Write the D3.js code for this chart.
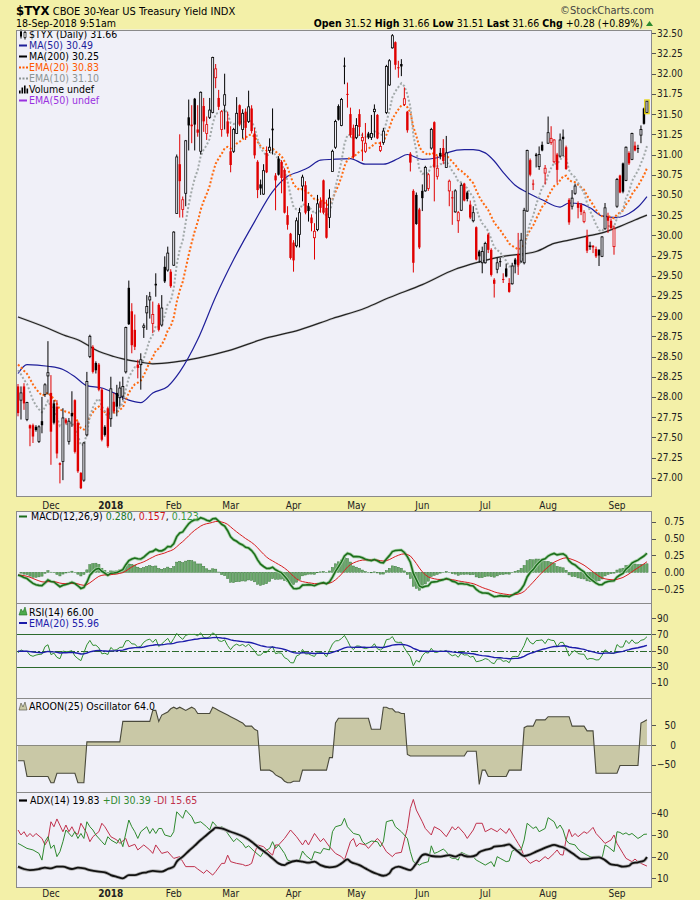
<!DOCTYPE html>
<html><head><meta charset="utf-8">
<script src="https://cdn.jsdelivr.net/npm/d3@7"></script>
<style>
body{margin:0;background:#f3f0a8}
svg{display:block}
text{font-family:'DejaVu Sans Condensed','Liberation Sans',Arial,sans-serif;white-space:pre}
</style>
</head><body><div id="chart"></div>
<script>
// ---------- DATA ----------
const startDate = "2017-11-15", endDate = "2018-09-18";
const holidays = ["2017-11-23","2017-12-25","2018-01-01","2018-01-15","2018-02-19","2018-03-30","2018-05-28","2018-07-04","2018-09-03"];
const monthLabels = ["Dec","2018","Feb","Mar","Apr","May","Jun","Jul","Aug","Sep"];

const open = [28.13,27.96,28.13,27.72,27.65,27.65,27.63,27.45,27.70,28.03,
28.26,28.05,27.92,27.88,27.18,27.20,27.72,27.45,27.80,27.96,
27.68,27.06,26.97,27.53,28.50,28.62,28.42,28.40,28.09,27.63,
27.86,27.73,27.94,28.05,27.99,28.01,28.31,29.35,29.06,28.83,
28.40,28.40,28.86,29.04,29.20,28.91,29.40,29.14,28.89,29.61,
29.57,29.55,29.63,30.27,30.88,30.32,30.52,31.46,31.37,31.69,
31.31,31.04,31.60,31.26,31.46,31.52,31.95,31.70,31.31,31.61,
31.41,31.04,31.04,31.26,31.61,31.31,31.53,31.41,31.57,31.26,
30.91,30.63,30.51,31.02,31.05,31.32,30.74,30.95,30.91,30.81,
30.25,30.02,29.91,29.87,30.01,30.61,30.62,30.36,30.22,29.97,
30.07,30.42,30.68,30.34,30.22,30.79,31.09,31.60,31.36,32.10,
31.75,31.50,31.33,31.21,31.50,31.17,31.04,31.26,31.21,31.53,
31.49,31.05,31.15,31.52,31.86,32.32,32.39,32.08,32.12,31.62,
31.53,31.01,30.55,30.50,30.32,30.55,30.55,30.58,31.08,31.40,
30.73,31.02,31.08,30.84,30.55,30.47,30.29,30.18,30.31,30.64,
30.53,30.38,30.18,30.10,29.80,29.66,29.66,30.01,29.82,29.45,
29.58,29.68,29.46,29.59,29.41,29.40,29.70,29.77,29.68,29.66,
30.30,30.93,30.64,31.00,30.85,31.12,30.77,31.14,31.15,30.91,
31.00,30.98,31.22,31.09,30.44,30.36,30.52,30.40,30.38,30.17,
29.99,29.86,29.87,29.83,29.82,29.74,30.08,30.23,30.18,29.86,
30.36,30.74,30.89,30.68,31.02,30.94,31.11,31.08,31.24,31.57,
31.52];
const high = [28.16,28.13,28.17,27.94,27.66,27.67,27.65,27.65,28.00,28.17,
28.69,28.27,27.96,27.96,27.19,27.86,27.74,27.74,28.07,27.97,
27.70,27.07,27.44,28.31,28.77,28.64,28.44,28.42,28.11,27.65,
27.88,28.25,28.05,28.15,28.19,28.25,28.87,29.44,29.16,29.02,
28.46,28.54,28.91,29.26,29.30,29.18,29.53,29.16,29.26,29.74,
29.86,29.58,30.05,31.00,31.25,30.48,31.18,31.68,31.61,31.70,
31.61,31.78,31.70,31.47,31.70,32.21,32.12,31.80,31.55,32.00,
31.53,31.35,31.33,31.71,31.62,31.56,31.57,31.79,31.61,31.33,
30.93,30.69,30.88,31.10,31.20,31.57,30.77,30.98,30.93,30.83,
30.36,30.03,29.94,30.22,30.34,30.75,30.67,30.40,30.26,30.15,
30.50,30.47,30.69,30.44,30.57,31.06,31.43,31.62,31.70,32.20,
31.89,31.58,31.37,31.45,31.56,31.27,31.39,31.28,31.49,31.62,
31.50,31.16,31.33,32.11,32.18,32.49,32.40,32.16,32.18,31.83,
31.54,31.03,30.57,30.53,30.34,30.63,30.86,30.77,31.33,31.41,
30.98,31.08,31.19,31.23,30.69,30.55,30.57,30.30,30.65,30.65,
30.55,30.43,30.36,30.11,29.82,29.86,29.92,30.03,29.84,29.47,
29.72,29.72,29.53,29.65,29.47,29.66,29.72,30.03,30.03,30.34,
31.06,30.95,30.69,31.02,31.10,31.16,30.87,31.47,31.35,31.19,
31.02,31.26,31.31,31.11,30.46,30.56,30.64,30.42,30.40,30.31,
30.07,29.92,29.88,29.86,29.83,29.99,30.40,30.28,30.21,30.12,
30.71,30.75,30.90,31.10,31.04,31.27,31.16,31.12,31.36,31.58,
31.66];
const low = [27.76,27.72,27.84,27.70,27.39,27.43,27.57,27.43,27.55,28.00,
28.03,27.16,27.66,27.24,26.93,26.97,27.66,27.41,27.63,27.30,
27.06,26.86,26.95,27.51,28.48,28.29,28.29,28.07,27.45,27.51,
27.37,27.63,27.80,27.76,27.88,27.96,28.29,28.89,28.54,28.58,
28.23,28.09,28.73,28.83,28.97,28.79,29.24,28.81,28.87,29.41,
29.55,29.35,29.62,30.27,30.22,30.22,30.36,31.05,31.14,31.05,
31.22,31.00,31.28,31.18,31.44,31.51,31.82,31.55,31.22,31.31,
31.22,30.78,31.02,31.26,31.35,31.20,31.18,31.39,31.26,30.95,
30.46,30.50,30.50,30.77,31.02,31.00,30.31,30.74,30.52,30.27,
30.07,29.70,29.55,29.85,29.85,30.42,30.26,30.17,30.05,29.70,
30.05,30.28,30.26,29.96,30.09,30.79,31.07,31.42,31.35,31.87,
31.58,31.21,30.95,31.19,31.23,30.92,31.02,31.19,31.18,31.21,
31.19,31.03,31.12,31.50,31.85,32.31,32.05,31.95,31.97,31.60,
31.27,30.79,29.54,30.13,29.83,30.30,30.54,30.55,31.06,30.42,
30.69,30.94,30.88,30.84,30.36,30.13,30.28,30.03,30.30,30.42,
30.42,30.20,30.16,29.69,29.66,29.53,29.65,29.78,29.49,29.23,
29.53,29.61,29.41,29.48,29.29,29.39,29.53,29.51,29.66,29.64,
30.29,30.73,30.56,30.84,30.81,31.04,30.63,31.13,31.12,30.89,
30.65,30.96,30.98,30.81,30.13,30.32,30.50,30.21,30.25,30.15,
29.78,29.82,29.78,29.72,29.62,29.73,30.07,30.03,30.07,29.76,
30.34,30.52,30.52,30.67,30.87,30.93,31.04,31.02,31.14,31.37,
31.51];
const close = [27.80,28.05,27.92,27.93,27.61,27.51,27.59,27.63,27.65,28.15,
28.30,27.57,27.68,27.30,27.16,27.74,27.68,27.70,27.76,27.32,
27.08,26.87,27.43,28.19,28.75,28.31,28.33,28.09,27.47,27.53,
27.39,28.10,27.82,27.88,28.11,28.13,28.86,28.90,28.64,28.62,
28.36,28.46,28.88,29.12,29.24,29.02,29.38,28.83,29.10,29.43,
29.78,29.37,30.04,30.97,30.67,30.44,31.17,31.36,31.35,31.37,
31.27,31.77,31.41,31.37,31.55,32.20,32.06,31.59,31.53,31.74,
31.26,30.87,31.31,31.51,31.37,31.51,31.33,31.59,31.29,30.99,
30.56,30.58,30.80,30.78,31.09,31.30,30.68,30.75,30.71,30.28,
30.13,29.72,29.69,30.18,30.28,30.72,30.28,30.30,30.15,30.05,
30.39,30.34,30.28,29.97,30.46,31.04,31.41,31.43,31.68,32.09,
31.74,31.24,30.97,31.36,31.34,31.21,31.14,31.21,31.26,31.56,
31.20,31.10,31.29,32.09,32.16,32.47,32.11,32.07,32.09,31.69,
31.30,30.90,29.66,30.14,29.85,30.46,30.84,30.75,31.31,30.84,
30.83,30.98,30.92,31.02,30.67,30.46,30.55,30.28,30.62,30.43,
30.45,30.22,30.28,29.70,29.74,29.80,29.90,29.82,29.51,29.40,
29.66,29.67,29.45,29.49,29.30,29.62,29.64,29.63,29.94,30.31,
31.05,30.75,30.63,30.98,31.00,31.05,30.83,31.27,31.20,31.18,
30.81,31.18,31.19,30.82,30.16,30.46,30.61,30.34,30.29,30.28,
29.81,29.87,29.85,29.74,29.75,29.98,30.34,30.18,30.09,30.08,
30.69,30.53,30.54,31.09,30.89,31.26,31.05,31.07,31.31,31.38,
31.66];

// moving averages (trading-day index, value)
const ma50Days   = [0,3,10,15,19,23,28,32,37,41,45,50,54,60,66,72,79,85,90,94,97,101,105,111,116,122,127,130,135,140,144,149,152,156,159,162,166,170,175,181,184,188,191,195,200,204,207,210];
const ma50Values = [28.29,28.40,28.38,28.34,28.25,28.14,28.11,28.05,27.96,27.93,28.05,28.13,28.31,28.71,29.24,29.70,30.17,30.54,30.73,30.79,30.84,30.93,30.94,30.95,30.88,30.88,30.95,31.00,30.94,30.96,31.03,31.06,31.06,31.02,30.92,30.78,30.62,30.53,30.44,30.35,30.40,30.39,30.34,30.24,30.22,30.27,30.35,30.48];
const ma200Days   = [0,10,15,21,26,32,35,41,45,52,60,70,83,94,105,116,124,135,146,151,157,162,173,179,184,190,195,201,206,210];
const ma200Values = [28.99,28.85,28.77,28.69,28.58,28.50,28.47,28.43,28.41,28.43,28.48,28.57,28.73,28.83,28.97,29.10,29.23,29.39,29.58,29.64,29.70,29.74,29.80,29.90,29.94,29.99,30.03,30.11,30.19,30.25];

// Aroon(25) oscillator
const aroonOsc = [-40,-40,-40,-80,-80,-80,-80,-80,-80,-80,-80,-96,-96,-72,-72,-72,-72,-72,-72,-72,
-96,-96,-96,8,8,8,8,8,8,8,8,8,8,8,8,60,60,60,60,60,60,60,60,60,60,88,88,60,76,80,84,
92,96,92,96,92,88,92,96,92,80,80,80,80,80,96,92,88,84,80,76,72,68,64,60,56,48,48,48,40,36,
-64,-64,-64,-64,-68,-76,-80,-84,-92,-96,-96,-92,-92,-92,-64,-64,-64,-64,-64,-64,-64,-64,-64,-32,-32,
56,68,68,68,68,68,68,68,68,68,68,68,40,40,40,40,96,96,92,92,84,84,80,80,
-24,-28,-28,-28,-28,-28,-28,-28,-28,-28,-28,-28,-28,-28,-28,-28,-28,-28,-28,-28,-16,-16,-16,-16,
-100,-64,-64,-80,-80,-80,-80,-80,-80,-80,-64,-64,-64,-64,-64,44,48,48,48,64,64,64,64,
72,72,72,72,72,72,72,72,48,48,48,48,48,36,36,36,-72,-72,-72,-72,-72,-72,-72,-72,
-52,-52,-52,-52,-52,-52,-52,56,60,64];

// ADX(14), +DI, -DI (trading-day index, value)
const adxDays = [0,2,4,7,9,11,13,15,18,20,22,24,27,29,31,33,35,37,39,41,43,45,48,50,52,53,55,57,59,61,63,65,66,68,
  71,74,76,78,80,83,85,87,89,90,93,95,97,99,101,104,106,108,110,111,114,116,118,120,122,124,125,127,129,131,133,135,136,138,
  141,144,146,148,149,151,153,154,156,158,159,162,164,165,167,169,171,173,175,177,179,181,182,184,186,188,190,192,194,196,198,200,202,204,205,207,209,210];
const adxValues = [15.4,14.3,13.8,14.3,14.9,14.6,15.4,15.4,14.3,14.9,14.6,13.8,13.1,12.8,11.5,10.7,10.0,11.5,11.5,12.3,12.8,13.4,13.1,14.3,15.4,17.7,20.0,22.6,25.1,27.7,30.0,32.3,33.4,33.0,
  31.5,30.0,28.7,26.9,24.6,21.5,19.2,16.9,16.1,16.9,18.1,17.7,17.2,17.7,16.1,15.1,15.4,16.9,18.7,17.7,16.1,14.6,13.1,12.0,11.2,12.3,14.3,15.4,14.6,13.8,16.9,20.7,21.1,20.3,
  20.0,20.7,20.0,21.0,20.4,20.0,20.7,22.0,23.1,23.8,24.6,25.1,25.7,24.6,22.3,20.3,21.0,22.3,23.5,24.6,25.4,24.6,24.3,22.6,20.7,18.9,18.9,19.5,19.7,18.4,16.4,16.1,15.4,15.8,16.9,17.4,18.1,19.83];
const pdiDays = [0,1,2,3,5,7,8,9,10,11,12,13,14,15,16,18,19,20,21,22,23,24,25,26,28,29,30,31,33,34,35,37,38,39,40,41,43,44,45,46,47,48,49,51,52,53,54,55,56,58,59,61,63,64,65,67,68,
  69,70,72,73,75,76,77,79,81,82,84,85,86,87,89,90,92,94,95,96,98,99,101,102,104,105,106,108,109,110,112,114,115,116,118,120,121,122,123,125,126,128,130,131,132,134,135,137,138,
  139,140,142,143,144,145,146,147,148,150,152,153,154,156,158,159,160,161,163,164,165,166,168,169,170,172,173,174,176,177,179,180,181,182,183,184,186,187,188,190,191,193,195,196,197,199,200,201,202,203,204,205,207,208,209,210];
const pdiValues = [26.1,25.4,24.6,23.8,23.1,21.5,18.4,26.9,29.2,23.8,25.4,20.0,22.3,26.9,32.3,29.2,31.5,28.4,30.7,28.4,36.1,33.8,32.3,30.0,26.9,25.4,29.2,27.7,26.1,28.4,24.6,36.9,33.8,31.5,28.4,31.5,33.8,30.7,33.0,30.7,33.0,33.0,30.0,29.2,31.5,40.7,39.2,37.7,41.5,38.4,35.4,36.1,33.8,32.3,36.1,33.0,33.8,
  33.0,30.7,26.9,28.4,26.1,24.1,25.0,22.3,20.0,22.3,23.8,26.9,23.8,25.4,21.5,18.4,17.7,18.4,22.6,20.7,18.4,22.3,21.5,23.8,23.1,31.5,33.8,34.6,37.7,33.8,30.7,30.0,26.9,25.7,27.2,26.9,24.6,26.9,36.1,36.9,33.8,31.5,28.4,22.3,17.7,16.1,16.9,17.7,25.0,
  21.5,22.0,23.5,22.3,20.0,19.2,19.2,18.4,22.0,20.7,20.0,18.4,17.7,16.1,17.7,15.4,20.0,19.2,17.7,18.0,22.6,23.1,23.1,27.7,35.4,33.0,33.8,31.5,33.0,38.0,36.1,33.0,34.6,32.3,27.7,26.1,25.4,23.5,22.3,20.7,20.0,20.0,19.2,25.4,24.6,22.3,31.5,31.2,30.3,31.0,30.0,30.7,28.4,29.2,30.3,30.39];
const mdiDays = [0,1,2,3,4,5,6,8,9,10,11,12,13,15,16,17,18,19,20,21,23,24,25,27,28,29,31,33,34,36,37,39,40,42,44,45,46,48,50,51,52,54,55,56,59,60,62,63,65,66,68,
  69,70,71,73,75,76,77,78,79,80,82,83,85,86,87,89,91,93,95,96,97,99,101,102,104,106,108,109,111,112,113,114,116,117,118,120,121,123,125,126,128,129,130,131,132,133,135,136,138,
  139,141,143,145,146,147,149,150,152,153,155,156,158,160,161,163,164,166,167,168,169,171,173,174,176,177,179,180,181,182,183,184,185,186,187,189,190,192,193,195,196,198,199,200,202,203,205,206,207,208,210];
const mdiValues = [32.3,30.0,31.5,29.2,30.7,29.2,30.7,28.4,25.4,27.7,36.1,33.8,37.4,31.5,34.6,31.5,33.8,31.0,30.3,35.4,30.7,26.9,29.2,31.5,35.4,33.8,29.2,27.7,26.1,28.4,24.6,25.7,23.1,25.4,23.1,21.5,25.4,21.5,22.3,20.7,19.2,20.0,17.7,15.4,15.4,14.3,12.3,13.8,11.5,13.1,16.9,
  16.9,20.7,17.7,16.9,16.4,15.8,16.1,16.9,21.5,25.4,24.6,23.1,20.7,25.4,25.4,28.4,32.3,29.2,25.4,27.7,25.4,30.7,26.9,28.4,24.6,21.5,20.0,18.4,26.9,28.4,24.6,26.1,25.4,23.8,25.4,28.4,26.9,22.3,20.0,21.5,22.0,27.7,33.0,42.3,46.4,41.5,36.1,33.0,30.0,
  33.8,32.3,29.2,33.8,32.3,33.8,30.7,28.4,32.3,35.4,35.4,31.5,33.0,31.5,33.0,30.7,33.0,28.4,26.1,23.8,20.0,16.9,18.4,17.7,20.0,18.9,21.5,23.1,21.0,20.7,27.7,32.6,29.2,30.7,29.2,31.5,30.7,33.5,30.7,27.7,26.1,27.7,30.0,26.1,21.5,19.2,17.7,18.9,17.7,16.9,15.65];

// indicator starting levels read at the first bar (EMA, MACD and RSI are derived from the closes above)
const seedEma10 = 28.33, seedEma20 = 28.40;
const seedEma12 = 28.28, seedEma26 = 28.32, seedSignal = -0.04;
const seedAvgGain = 0.12, seedAvgLoss = 0.135, seedRsiEma = 49;

const priceTicks = [27.00,27.25,27.50,27.75,28.00,28.25,28.50,28.75,29.00,29.25,29.50,29.75,30.00,30.25,30.50,30.75,31.00,31.25,31.50,31.75,32.00,32.25,32.50];
const macdTicks = [0.75,0.50,0.25,0.00,-0.25];
const rsiTicks = [90,70,50,30,10];
const aroonTicks = [50,0,-50];
const adxTicks = [40,30,20,10];

// ---------- derived series ----------
const parse = d3.utcParse("%Y-%m-%d"), fmtD = d3.utcFormat("%Y-%m-%d");
const dates = d3.utcDay.range(parse(startDate), d3.utcDay.offset(parse(endDate),1))
  .filter(d => d.getUTCDay()%6 !== 0 && !holidays.includes(fmtD(d))).slice(0, close.length);
const N = dates.length;

function emaSeries(src, n, seed){ const k=2/(n+1); let e=seed; return src.map((v,i)=> i===0 ? e : (e = e + k*(v-e))); }
const ema10 = emaSeries(close,10,seedEma10);
const ema20 = emaSeries(close,20,seedEma20);
const ema12 = emaSeries(close,12,seedEma12), ema26 = emaSeries(close,26,seedEma26);
const macd = ema12.map((v,i)=>v-ema26[i]);
const signal = emaSeries(macd,9,seedSignal);
const hist = macd.map((v,i)=>v-signal[i]);
const rsi = []; { let ag=seedAvgGain, al=seedAvgLoss;
  close.forEach((c,i)=>{ if(i>0){const ch=c-close[i-1]; ag=(ag*13+Math.max(ch,0))/14; al=(al*13+Math.max(-ch,0))/14;} rsi.push(100-100/(1+ag/al)); }); }
const rsiEma = emaSeries(rsi,20,seedRsiEma);

// ---------- LAYOUT ----------
const W=700,H=900, PL=16, PR=652;
const BG='#f3f0a8', PBG='#f0f0f8', BORDER='#8a8a8a';
const svg=d3.select('#chart').append('svg').attr('width',W).attr('height',H);
svg.append('rect').attr('width',W).attr('height',H).attr('fill',BG);

const x = d3.scalePoint().domain(dates).range([18, 18+2.995*(N-1)]);
const yMain = d3.scaleLinear().domain([26.774,32.547]).range([496,29.5]);
const yMacd = d3.scaleLinear().domain([-0.454,0.907]).range([603,511]);
const yRsi = d3.scaleLinear().domain([-8.6,108.6]).range([698,603]);
const yAr = d3.scaleLinear().domain([-119.5,119.5]).range([792,698]);
const yAdx = d3.scaleLinear().domain([6.0,49.83]).range([887,792]);

const panels=[{s:yMain},{s:yMacd},{s:yRsi},{s:yAr},{s:yAdx}];
panels.forEach(p=>{ const [b,t]=p.s.range();
  svg.append('rect').attr('x',PL).attr('y',t).attr('width',PR-PL).attr('height',b-t).attr('fill',PBG);
  p.g = svg.append('g');
  const cid='c'+Math.round(t);
  svg.append('clipPath').attr('id',cid).append('rect').attr('x',PL).attr('y',t).attr('width',PR-PL).attr('height',b-t);
  p.g.attr('clip-path',`url(#${cid})`);
});
const [gMain,gMacd,gRsi,gAr,gAdx]=panels.map(p=>p.g);
const X=(i)=>x(dates[i]);

// right axes
function rightAxis(scale, ticks, fmt){
  const g=svg.append('g');
  const labels = ticks.map(t=>g.append('text').attr('y',scale(t)+3.5).attr('font-size',10).attr('fill','#222').text(fmt(t)));
  const mw = d3.max(labels, l=>l.node().getComputedTextLength());
  labels.forEach(l=>l.attr('x',657+mw).attr('text-anchor','end'));
  ticks.forEach(t=>g.append('line').attr('x1',PR).attr('x2',PR+4).attr('y1',Math.round(scale(t))+0.5).attr('y2',Math.round(scale(t))+0.5).attr('stroke','#555'));
}
rightAxis(yMain, priceTicks, d3.format('.2f'));
rightAxis(yMacd, macdTicks, d3.format('.2f'));
rightAxis(yRsi, rsiTicks, d3.format('d'));
rightAxis(yAr, aroonTicks, d3.format('d'));
rightAxis(yAdx, adxTicks, d3.format('d'));

// month labels
const monthIdx=[]; dates.forEach((d,i)=>{ if(i>0 && d.getUTCMonth()!==dates[i-1].getUTCMonth()) monthIdx.push(i); });
[508.5, 897].forEach(yy=>{
  monthIdx.forEach((mi,k)=>{ if(k>=monthLabels.length) return;
    svg.append('text').attr('x',X(mi)).attr('y',yy).attr('text-anchor','middle').attr('font-size',10)
      .attr('font-weight',monthLabels[k]==='2018'?'bold':'normal').attr('fill','#222').text(monthLabels[k]);
  });
});

// ---------- MAIN PRICE PANEL ----------
const lineIdx = d3.line().x(d=>X(d[0])).y(d=>yMain(d[1])).curve(d3.curveMonotoneX);
gMain.append('path').attr('d',lineIdx(ma200Days.map((d,i)=>[d,ma200Values[i]]))).attr('fill','none').attr('stroke','#b8b8b8').attr('stroke-width',2.4).attr('opacity',0.6);
gMain.append('path').attr('d',lineIdx(ma200Days.map((d,i)=>[d,ma200Values[i]]))).attr('fill','none').attr('stroke','#222').attr('stroke-width',1.2);
gMain.append('path').attr('d',lineIdx(ma50Days.map((d,i)=>[d,ma50Values[i]]))).attr('fill','none').attr('stroke','#1f1f9a').attr('stroke-width',1.2);
const lineDay = (s)=>d3.line().x((d,i)=>X(i)).y(d=>s(d));
gMain.append('path').attr('d',lineDay(yMain)(ema20)).attr('fill','none').attr('stroke','#ff6a10').attr('stroke-width',2).attr('stroke-dasharray','2,2');
gMain.append('path').attr('d',lineDay(yMain)(ema10)).attr('fill','none').attr('stroke','#a2a9a9').attr('stroke-width',2).attr('stroke-dasharray','2,2');

for(let i=0;i<N;i++){
  const cx=X(i), o=open[i], c=close[i], h=high[i], l=low[i];
  const pc = i>0 ? close[i-1] : o;
  const col = c>=pc ? '#000' : '#e00000';
  const filled = c<o;
  gMain.append('line').attr('x1',cx).attr('x2',cx).attr('y1',yMain(h)).attr('y2',yMain(l)).attr('stroke',col).attr('stroke-width',1);
  const top=yMain(Math.max(o,c)), bot=yMain(Math.min(o,c));
  if(filled){
    gMain.append('rect').attr('x',cx-1.2).attr('width',2.4).attr('y',top).attr('height',Math.max(1,bot-top)).attr('fill',col);
  } else {
    if(i===N-1) gMain.append('rect').attr('x',cx-2.2).attr('width',4.4).attr('y',top-1.2).attr('height',Math.max(1,bot-top)+2.4).attr('fill','none').attr('stroke','#e6d200').attr('stroke-width',1.2);
    gMain.append('rect').attr('x',cx-1).attr('width',2).attr('y',top).attr('height',Math.max(0.8,bot-top)).attr('fill',PBG).attr('stroke',col).attr('stroke-width',0.8);
  }
}

// main legend
const legend=[
  {t:'$TYX (Daily) 31.66',c:'#000',icon:'candle'},
  {t:'MA(50) 30.49',c:'#1f1f9a',icon:'line'},
  {t:'MA(200) 30.25',c:'#000',icon:'line'},
  {t:'EMA(20) 30.83',c:'#ff5a00',icon:'dot'},
  {t:'EMA(10) 31.10',c:'#8c9494',icon:'dot'},
  {t:'Volume undef',c:'#000',icon:'bars'},
  {t:'EMA(50) undef',c:'#9a30e0',icon:'line'}];
legend.forEach((L,k)=>{
  const cy=34.5+11*k;
  if(L.icon==='line') svg.append('line').attr('x1',19).attr('x2',27).attr('y1',cy).attr('y2',cy).attr('stroke',L.c).attr('stroke-width',2);
  if(L.icon==='dot') svg.append('line').attr('x1',19).attr('x2',28).attr('y1',cy).attr('y2',cy).attr('stroke',L.c).attr('stroke-width',2).attr('stroke-dasharray','2,1.5');
  if(L.icon==='candle'){ svg.append('line').attr('x1',21).attr('x2',21).attr('y1',cy-5).attr('y2',cy+4).attr('stroke','#000');
    svg.append('rect').attr('x',20).attr('y',cy-3).attr('width',2).attr('height',5).attr('fill','#000');
    svg.append('line').attr('x1',25).attr('x2',25).attr('y1',cy-4).attr('y2',cy+5).attr('stroke','#000');
    svg.append('rect').attr('x',24).attr('y',cy-2).attr('width',2).attr('height',5).attr('fill','#fff').attr('stroke','#000').attr('stroke-width',0.7); }
  if(L.icon==='bars'){ [[19,3],[21.5,6],[24,8],[26.5,5]].forEach(b=>svg.append('rect').attr('x',b[0]).attr('y',cy+4-b[1]).attr('width',1.6).attr('height',b[1]).attr('fill','#000')); }
  svg.append('text').attr('x',29).attr('y',cy+3.8).attr('font-size',10.5).attr('fill',L.c).text(L.t);
});

// ---------- MACD ----------
const y0m=yMacd(0);
hist.forEach((v,i)=>{ const yy=yMacd(v);
  gMacd.append('rect').attr('x',X(i)-1.1).attr('width',2.2).attr('y',Math.min(yy,y0m)).attr('height',Math.abs(yy-y0m)).attr('fill','#6caa6c').attr('stroke','#3d7a3d').attr('stroke-width',0.5); });
gMacd.append('path').attr('d',lineDay(yMacd)(macd)).attr('fill','none').attr('stroke','#a8d2a8').attr('stroke-width',3.2);
gMacd.append('path').attr('d',lineDay(yMacd)(signal)).attr('fill','none').attr('stroke','#d81e1e').attr('stroke-width',1);
gMacd.append('path').attr('d',lineDay(yMacd)(macd)).attr('fill','none').attr('stroke','#1c6e1c').attr('stroke-width',1.6);
svg.append('line').attr('x1',19).attr('x2',27).attr('y1',516.5).attr('y2',516.5).attr('stroke','#1c6e1c').attr('stroke-width',2);
{ const t=svg.append('text').attr('x',31).attr('y',520.3).attr('font-size',10.5);
  [['MACD(12,26,9) ','#000'],['0.280','#1c7a1c'],[', ','#000'],['0.157','#d01818'],[', ','#000'],['0.123','#3a9a3a']].forEach(s=>t.append('tspan').attr('fill',s[1]).text(s[0])); }

// ---------- RSI ----------
[[70,null],[30,null],[50,'7,2,2,2']].forEach(r=>{ const yy=Math.round(yRsi(r[0]))+0.5;
  const ln=gRsi.append('line').attr('x1',PL).attr('x2',PR).attr('y1',yy).attr('y2',yy).attr('stroke','#2d6a2d').attr('stroke-width',1.2);
  if(r[1]) ln.attr('stroke-dasharray',r[1]); });
gRsi.append('path').attr('d',lineDay(yRsi)(rsi)).attr('fill','none').attr('stroke','#2f8f2f').attr('stroke-width',1);
gRsi.append('path').attr('d',lineDay(yRsi)(rsiEma)).attr('fill','none').attr('stroke','#1c1caa').attr('stroke-width',1.4);
svg.append('path').attr('d','M19,615 L21,609 L23,612 L25,607 L27,615 Z').attr('fill','#4caa4c').attr('stroke','#1c6e1c').attr('stroke-width',0.6);
svg.append('text').attr('x',29).attr('y',615.5).attr('font-size',10.5).attr('fill','#000').text('RSI(14) 66.00');
svg.append('line').attr('x1',19).attr('x2',27).attr('y1',623).attr('y2',623).attr('stroke','#1c1caa').attr('stroke-width',2);
svg.append('text').attr('x',29).attr('y',626.8).attr('font-size',10.5).attr('fill','#1c1caa').text('EMA(20) 55.96');

// ---------- AROON ----------
const arArea=d3.area().x((d,i)=>X(i)).y0(yAr(0)).y1(d=>yAr(d));
gAr.append('path').attr('d',arArea(aroonOsc)).attr('fill','#c9c8a6');
gAr.append('line').attr('x1',PL).attr('x2',PR).attr('y1',Math.round(yAr(0))+0.5).attr('y2',Math.round(yAr(0))+0.5).attr('stroke','#8a8a80').attr('stroke-width',1);
gAr.append('path').attr('d',d3.line().x((d,i)=>X(i)).y(d=>yAr(d))(aroonOsc)).attr('fill','none').attr('stroke','#4a4a3c').attr('stroke-width',1.1);
svg.append('path').attr('d','M19,710 L21,703 L23,707 L25,702 L27,710 Z').attr('fill','#c9c8a6').attr('stroke','#4a4a3c').attr('stroke-width',0.6);
svg.append('text').attr('x',29).attr('y',709.8).attr('font-size',10.5).attr('fill','#000').text('AROON(25) Oscillator 64.0');

// ---------- ADX ----------
const lineAdx = d3.line().x(d=>X(d[0])).y(d=>yAdx(d[1]));
const pairs=(a,b)=>a.map((d,i)=>[d,b[i]]);
gAdx.append('path').attr('d',lineAdx(pairs(mdiDays,mdiValues))).attr('fill','none').attr('stroke','#c0304c').attr('stroke-width',1);
gAdx.append('path').attr('d',lineAdx(pairs(pdiDays,pdiValues))).attr('fill','none').attr('stroke','#2f8a2f').attr('stroke-width',1);
const adxLine = d3.line().x(d=>X(d[0])).y(d=>yAdx(d[1])).curve(d3.curveMonotoneX);
gAdx.append('path').attr('d',adxLine(pairs(adxDays,adxValues))).attr('fill','none').attr('stroke','#b0b0b0').attr('stroke-width',3.4);
gAdx.append('path').attr('d',adxLine(pairs(adxDays,adxValues))).attr('fill','none').attr('stroke','#111').attr('stroke-width',1.8);
svg.append('line').attr('x1',19).attr('x2',27).attr('y1',800.5).attr('y2',800.5).attr('stroke','#000').attr('stroke-width',2.2);
{ const t=svg.append('text').attr('x',30).attr('y',804.3).attr('font-size',10.5);
  [['ADX(14) 19.83 ','#000'],['+DI 30.39 ','#2f8a2f'],['-DI 15.65','#c0304c']].forEach(s=>t.append('tspan').attr('fill',s[1]).text(s[0])); }

// panel borders on top
panels.forEach(p=>{ const [b,t]=p.s.range();
  svg.append('rect').attr('x',PL+0.5).attr('y',Math.round(t)+0.5).attr('width',PR-PL-1).attr('height',Math.round(b)-Math.round(t)).attr('fill','none').attr('stroke',BORDER).attr('stroke-width',1);
});

// ---------- HEADER ----------
{ const t=svg.append('text').attr('x',16).attr('y',14.5).attr('fill','#000');
  t.append('tspan').attr('font-weight','bold').attr('font-size',13).text('$TYX');
  t.append('tspan').attr('font-size',11).text(' CBOE 30-Year US Treasury Yield INDX'); }
svg.append('text').attr('x',654).attr('y',14).attr('text-anchor','end').attr('font-size',11).attr('fill','#444').text('\u00a9StockCharts.com');
svg.append('text').attr('x',16).attr('y',27).attr('font-size',10.5).attr('fill','#000').text('18-Sep-2018 9:51am');
{ const t=svg.append('text').attr('x',643).attr('y',27).attr('text-anchor','end').attr('font-size',10.5).attr('fill','#000');
  [['Open',1],[' 31.52 ',0],['High',1],[' 31.66 ',0],['Low',1],[' 31.51 ',0],['Last',1],[' 31.66 ',0],['Chg',1],[' +0.28 (+0.89%)',0]]
   .forEach(s=>t.append('tspan').attr('font-weight',s[1]?'bold':'normal').text(s[0])); }
svg.append('path').attr('d','M646,26 L649.5,21 L653,26 Z').attr('fill','#2e8b2e');
</script>
</body></html>
